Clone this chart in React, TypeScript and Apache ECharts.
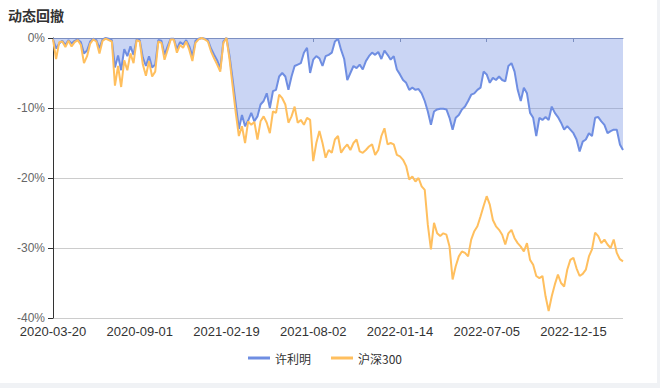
import React, { useEffect, useRef } from "react";
import * as echarts from "echarts";

const title = "动态回撤";
const seriesNames = ["许利明", "沪深300"];

const dates = [
  "2020-03-20","2020-03-26","2020-04-01","2020-04-08","2020-04-14","2020-04-20","2020-04-24","2020-04-30","2020-05-11","2020-05-15",
  "2020-05-21","2020-05-27","2020-06-02","2020-06-08","2020-06-12","2020-06-18","2020-06-29","2020-07-03","2020-07-09","2020-07-15",
  "2020-07-21","2020-07-27","2020-07-31","2020-08-06","2020-08-12","2020-08-18","2020-08-24","2020-08-28","2020-09-01","2020-09-07",
  "2020-09-11","2020-09-17","2020-09-23","2020-09-29","2020-10-13","2020-10-19","2020-10-23","2020-10-29","2020-11-04","2020-11-10",
  "2020-11-16","2020-11-20","2020-11-26","2020-12-02","2020-12-08","2020-12-14","2020-12-18","2020-12-24","2020-12-30","2021-01-07",
  "2021-01-13","2021-01-19","2021-01-25","2021-01-29","2021-02-04","2021-02-10","2021-02-19","2021-02-25","2021-03-03","2021-03-09",
  "2021-03-15","2021-03-19","2021-03-25","2021-03-31","2021-04-07","2021-04-13","2021-04-19","2021-04-23","2021-04-29","2021-05-10",
  "2021-05-14","2021-05-20","2021-05-26","2021-06-01","2021-06-07","2021-06-11","2021-06-18","2021-06-24","2021-06-30","2021-07-06",
  "2021-07-12","2021-07-16","2021-07-22","2021-07-28","2021-08-02","2021-08-06","2021-08-12","2021-08-18","2021-08-24","2021-08-30",
  "2021-09-03","2021-09-09","2021-09-15","2021-09-24","2021-09-30","2021-10-14","2021-10-20","2021-10-26","2021-11-01","2021-11-05",
  "2021-11-11","2021-11-17","2021-11-23","2021-11-29","2021-12-03","2021-12-09","2021-12-15","2021-12-21","2021-12-27","2021-12-31",
  "2022-01-06","2022-01-10","2022-01-14","2022-01-20","2022-01-26","2022-02-09","2022-02-15","2022-02-21","2022-02-25","2022-03-03",
  "2022-03-09","2022-03-15","2022-03-21","2022-03-25","2022-03-31","2022-04-08","2022-04-14","2022-04-20","2022-04-26","2022-05-05",
  "2022-05-11","2022-05-17","2022-05-23","2022-05-27","2022-06-02","2022-06-09","2022-06-15","2022-06-21","2022-06-27","2022-07-01",
  "2022-07-05","2022-07-11","2022-07-15","2022-07-21","2022-07-27","2022-08-02","2022-08-08","2022-08-12","2022-08-18","2022-08-24",
  "2022-08-30","2022-09-05","2022-09-09","2022-09-16","2022-09-22","2022-09-28","2022-10-12","2022-10-18","2022-10-24","2022-10-28",
  "2022-11-03","2022-11-09","2022-11-15","2022-11-21","2022-11-25","2022-12-01","2022-12-05","2022-12-09","2022-12-15","2022-12-21",
  "2022-12-27","2023-01-03","2023-01-09","2023-01-13","2023-01-19","2023-01-31","2023-02-06","2023-02-10","2023-02-16","2023-02-22",
  "2023-02-28","2023-03-06","2023-03-10","2023-03-16","2023-03-22"
];

const xuLiMing = [
  -0.2,-1.5,-0.8,-0.4,-1.0,-0.3,-0.8,-0.4,-0.2,-0.6,
  -2.2,-1.8,-0.5,-0.1,-0.3,-1.5,-0.2,0,-0.1,-0.3,
  -4.2,-2.5,-4.6,-1.6,-2.6,-1.2,-2.4,-0.2,-0.3,-2.8,
  -4.0,-2.6,-4.2,-3.8,-0.3,-0.4,-2.4,-1.2,-0.1,-0.1,
  -1.6,-0.6,-0.9,-0.3,-1.2,-2.6,-0.4,-0.1,0,-0.1,
  -0.3,-1.5,-2.4,-3.2,-4.4,-0.5,0,-2.6,-6.0,-9.5,
  -13.0,-11.0,-12.6,-11.8,-10.7,-11.9,-11.2,-9.5,-9.0,-7.9,
  -10.0,-7.6,-7.4,-5.5,-5.0,-5.5,-7.4,-5.5,-4.0,-3.8,
  -3.6,-2.1,-1.4,-5.0,-3.1,-2.6,-2.9,-4.0,-2.6,-2.4,
  -2.1,-0.5,-0.1,-1.7,-3.0,-6.0,-5.0,-4.0,-4.3,-3.8,
  -4.5,-3.3,-2.6,-2.1,-2.4,-2.0,-3.0,-1.8,-2.4,-3.1,
  -2.6,-4.5,-5.2,-6.0,-6.4,-7.4,-7.1,-7.4,-7.3,-7.9,
  -9.0,-10.5,-12.4,-10.5,-10.2,-10.1,-10.1,-10.2,-11.4,-13.1,
  -11.4,-11.0,-10.2,-9.8,-9.0,-8.1,-7.9,-7.4,-7.1,-4.8,
  -5.2,-6.4,-5.7,-6.0,-5.5,-6.0,-6.2,-4.0,-3.6,-4.8,
  -7.4,-9.0,-7.1,-7.9,-10.7,-11.4,-14.0,-11.4,-11.7,-11.3,
  -11.7,-9.8,-10.7,-11.3,-12.1,-13.1,-12.6,-13.1,-13.6,-14.5,
  -16.2,-14.8,-14.5,-13.6,-14.0,-11.4,-11.3,-11.9,-12.4,-13.6,
  -13.3,-13.1,-13.1,-15.2,-16.0
];

const hs300 = [
  -0.2,-3.0,-0.6,-0.5,-1.3,-0.4,-1.2,-0.6,-0.3,-1.0,
  -3.6,-2.6,-0.8,-0.2,-0.5,-2.2,-0.4,-0.1,-0.3,-0.5,
  -6.8,-4.0,-7.0,-3.2,-4.6,-2.2,-3.6,-0.3,-0.5,-3.8,
  -5.4,-3.3,-5.5,-4.8,-0.5,-0.7,-3.1,-1.7,-0.2,-0.2,
  -2.1,-1.0,-1.4,-0.5,-1.7,-3.3,-0.7,-0.2,0,-0.2,
  -0.5,-1.9,-2.9,-3.8,-4.8,-0.7,0,-3.1,-6.9,-10.7,
  -14.0,-12.6,-15.0,-11.9,-12.4,-12.0,-14.5,-11.9,-11.2,-12.1,
  -13.6,-10.5,-10.7,-8.1,-8.6,-9.5,-12.1,-11.2,-9.8,-12.1,
  -11.7,-12.4,-11.4,-11.7,-17.6,-15.0,-13.3,-15.0,-17.1,-16.0,
  -16.4,-14.5,-14.0,-16.4,-15.7,-15.2,-16.0,-15.0,-14.5,-16.2,
  -16.4,-16.0,-15.5,-15.2,-16.7,-16.0,-14.0,-12.9,-15.2,-15.0,
  -15.2,-16.7,-16.9,-17.4,-18.3,-20.2,-19.8,-20.5,-20.0,-21.2,
  -21.7,-26.7,-30.2,-26.4,-27.9,-28.3,-27.9,-28.1,-29.8,-34.5,
  -32.6,-31.2,-30.5,-30.7,-31.2,-28.8,-27.6,-26.9,-25.5,-24.0,
  -22.6,-23.8,-26.0,-26.9,-27.4,-28.1,-29.5,-27.9,-27.4,-28.6,
  -29.3,-29.8,-30.5,-29.3,-31.7,-32.4,-34.0,-34.3,-34.0,-36.9,
  -39.0,-36.9,-35.2,-33.8,-35.0,-35.5,-33.1,-31.7,-31.4,-32.9,
  -34.0,-33.7,-33.1,-31.2,-30.2,-27.8,-28.3,-29.3,-28.8,-29.5,
  -30.0,-28.8,-30.7,-31.6,-31.9
];

const yMin = -40;
const yMax = 0;
const yStep = 10;

const FONT = "'Noto Sans CJK SC', 'Noto Sans', sans-serif";
const AXIS_FONT = "'Liberation Sans', Arial, sans-serif";
const BLUE = "#6F8EE2";
const ORANGE = "#FFBF5E";

export default function App() {
  const ref = useRef<HTMLDivElement>(null);
  useEffect(() => {
    if (!ref.current) return;
    const chart = echarts.init(ref.current, undefined, { renderer: "svg" });
    chart.setOption({
      animation: false,
      backgroundColor: "#ffffff",
      textStyle: { fontFamily: FONT },
      title: {
        text: title,
        left: 3,
        top: 3,
        textStyle: { fontSize: 14, fontWeight: "bold", color: "#333", fontFamily: FONT },
      },
      legend: {
        data: seriesNames,
        top: 347,
        left: 243,
        icon: "rect",
        itemWidth: 22,
        itemHeight: 3,
        itemGap: 20,
        textStyle: { fontSize: 12, color: "#333", fontFamily: FONT },
      },
      grid: { left: 53, top: 38, width: 570, height: 280 },
      xAxis: {
        type: "category",
        data: dates,
        boundaryGap: false,
        axisLine: { show: true, onZero: true, lineStyle: { color: "#8491AE", width: 1 } },
        axisTick: { show: true, interval: 27, length: 4, lineStyle: { color: "#8491AE" } },
        axisLabel: { interval: 27, color: "#333", fontSize: 13, margin: 7, fontFamily: AXIS_FONT },
        splitLine: { show: false },
      },
      yAxis: {
        type: "value",
        min: yMin,
        max: yMax,
        interval: yStep,
        axisLine: { show: true, lineStyle: { color: "#333" } },
        axisTick: { show: true, length: 5, lineStyle: { color: "#333" } },
        axisLabel: { formatter: "{value}%", color: "#666", fontSize: 12, fontFamily: AXIS_FONT },
        splitLine: { show: true, lineStyle: { color: "#cccccc" } },
      },
      series: [
        {
          name: seriesNames[0],
          type: "line",
          data: xuLiMing,
          showSymbol: false,
          symbol: "none",
          lineStyle: { color: BLUE, width: 2 },
          itemStyle: { color: BLUE },
          areaStyle: { color: BLUE, opacity: 0.37 },
        },
        {
          name: seriesNames[1],
          type: "line",
          data: hs300,
          showSymbol: false,
          symbol: "none",
          lineStyle: { color: ORANGE, width: 2 },
          itemStyle: { color: ORANGE },
        },
      ],
    });
    return () => chart.dispose();
  }, []);

  return (
    <div style={{ position: "fixed", left: 0, top: 0, width: 660, height: 388, background: "#F0F2F5" }}>
      <div ref={ref} style={{ width: 657, height: 383, background: "#fff" }} />
    </div>
  );
}
